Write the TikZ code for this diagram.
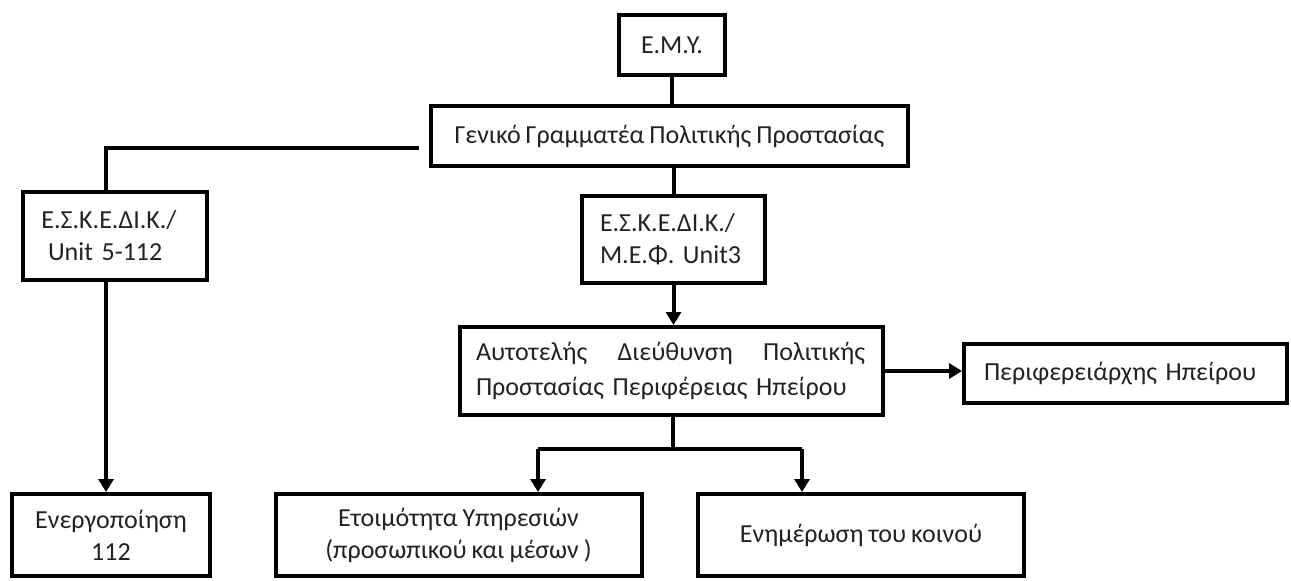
\documentclass[tikz,border=0pt]{standalone}
\usepackage{fontspec}
\setmainfont{Carlito}[WordSpace=0.85]
\usetikzlibrary{arrows.meta}
\definecolor{txt}{HTML}{222222}
\tikzset{
  box/.style={draw=black, line width=4pt, fill=white, text=txt, inner ysep=0pt,
              font=\fontsize{26}{32}\selectfont},
  cbox/.style={box, align=center},
  conn/.style={line width=4pt, draw=black},
  arr/.style={conn, -{Triangle[length=13pt,width=15pt]}},
}
\begin{document}
\begin{tikzpicture}[x=1pt,y=-1pt]
\useasboundingbox (0,0) rectangle (1291,581);
% boxes
\node[cbox, minimum width=106pt, minimum height=60pt] (emy) at (672,45) {Ε.Μ.Υ.};
\node[cbox, minimum width=477pt, minimum height=60pt] (gen) at (669.5,136) {Γενικό Γραμματέα Πολιτικής Προστασίας};
\node[box, minimum height=88pt, inner xsep=18.5pt, text width=147pt, align=left] (esk1) at (115,236)
  {Ε.Σ.Κ.Ε.ΔΙ.Κ./\\\hspace*{6.5pt}Unit 5-112};
\node[box, minimum height=87pt, inner xsep=18pt, text width=147pt, align=left] (esk2) at (673.5,239.5)
  {Ε.Σ.Κ.Ε.ΔΙ.Κ./\\Μ.Ε.Φ.\ Unit3};
\node[box, minimum height=88pt, inner xsep=16pt, text width=391pt, align=left,
      font=\fontsize{26}{35}\selectfont] (act) at (671.5,371)
  {\makebox[389pt]{Αυτοτελής\hfill Διεύθυνση\hfill Πολιτικής}\\Προστασίας Περιφέρειας Ηπείρου};
\node[box, minimum height=59pt, inner xsep=20pt, text width=283pt, align=left] (peri) at (1125.5,373.5)
  {Περιφερειάρχης Ηπείρου};
\node[cbox, minimum width=198pt, minimum height=82pt] (act112) at (111,535) {Ενεργοποίηση\\112};
\node[cbox, minimum width=366pt, minimum height=82pt] (ready) at (458.5,535) {Ετοιμότητα Υπηρεσιών\\(προσωπικού και μέσων )};
\node[cbox, minimum width=326pt, minimum height=82pt] (inform) at (861,535) {Ενημέρωση του κοινού};
% helper coordinates
\coordinate (gstart) at (419,148);
\coordinate (lx) at (106,148);
\coordinate (bj) at (673,449);
\coordinate (bl) at (538,449);
\coordinate (br) at (802,449);
% connectors
\draw[conn] (emy.south) -- (emy.south |- gen.north);
\draw[conn] (gen.south -| esk2.south) -- (esk2.north);
\draw[conn] (gstart) -- (lx) -- (lx |- esk1.north);
\draw[arr] (lx |- esk1.south) -- (lx |- act112.north);
\draw[arr] (esk2.south) -- (esk2.south |- act.north);
\draw[arr] (act.east) -- (act.east -| peri.west);
\draw[conn] (act.south -| bj) -- (bj);
\draw[arr] (bl) -- (bl |- ready.north);
\draw[arr] (br) -- (br |- inform.north);
\draw[conn, line join=round] (bl) -- (br);
\end{tikzpicture}
\end{document}
